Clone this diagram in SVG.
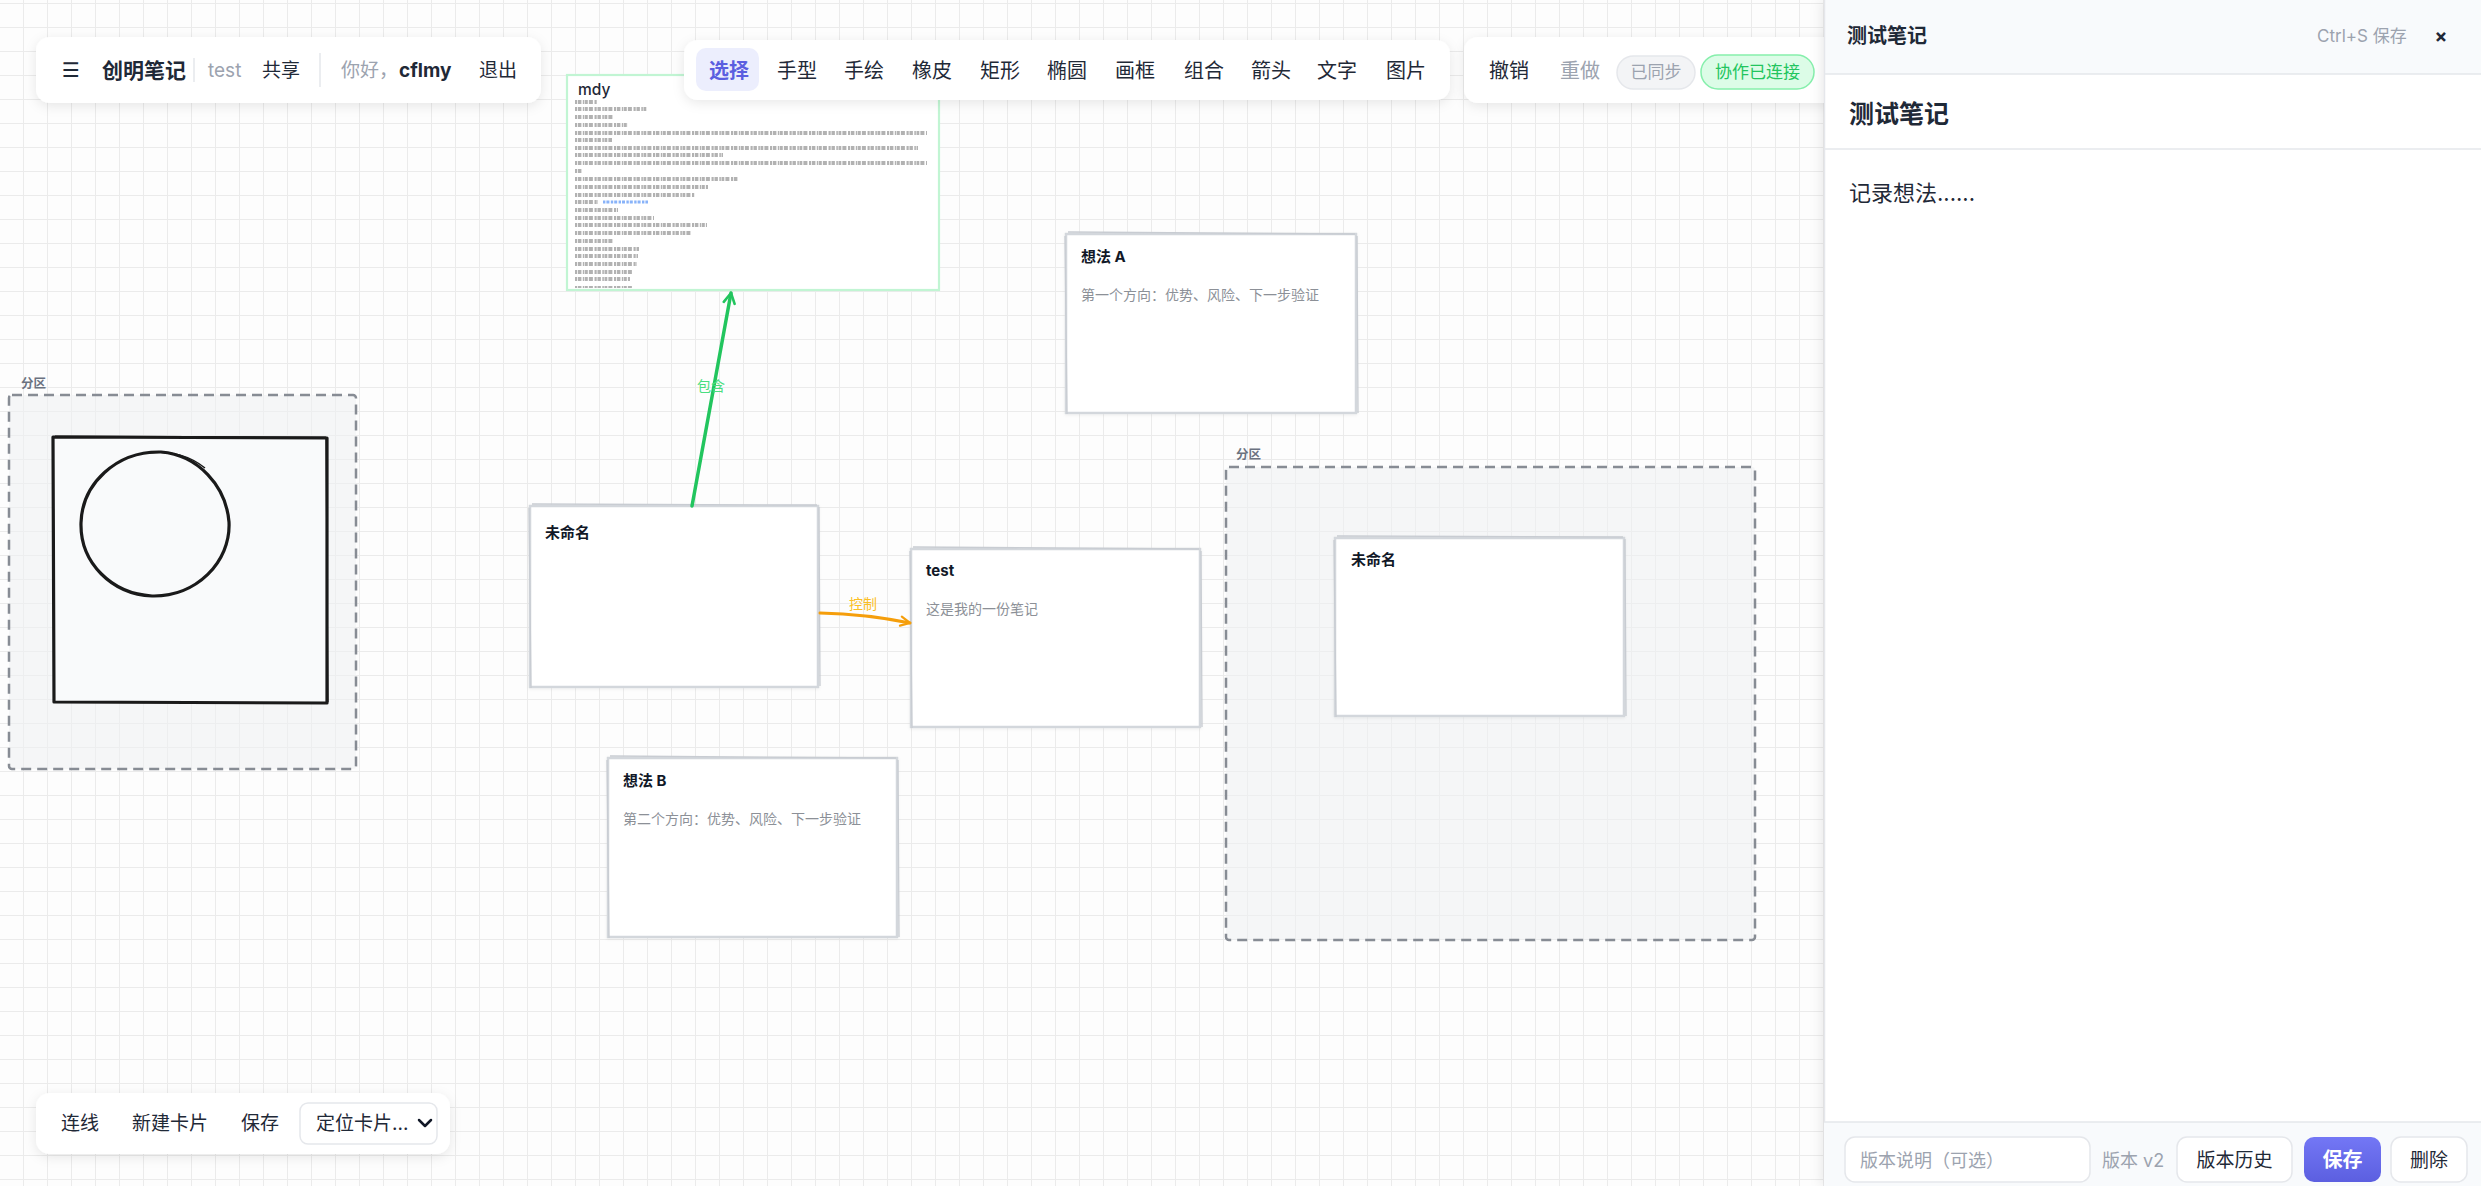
<svg xmlns="http://www.w3.org/2000/svg" width="2481" height="1186" viewBox="0 0 2481 1186">
<defs>
<pattern id="grid" x="-1" y="3" width="24" height="24" patternUnits="userSpaceOnUse">
<path d="M0 0.5 H24 M0.5 0 V24" fill="none" stroke="#ebebeb" stroke-width="1"/>
</pattern>
<filter id="sh" x="-10%" y="-30%" width="120%" height="170%">
<feDropShadow dx="0" dy="3" stdDeviation="6" flood-color="#000" flood-opacity="0.09"/>
</filter>
<filter id="csh" x="-5%" y="-5%" width="110%" height="110%">
<feDropShadow dx="0" dy="1" stdDeviation="1.5" flood-color="#000" flood-opacity="0.06"/>
</filter>
<filter id="psh" x="-5%" y="0%" width="110%" height="100%">
<feDropShadow dx="-3" dy="0" stdDeviation="6" flood-color="#000" flood-opacity="0.08"/>
</filter>
<linearGradient id="pbtn" x1="0" y1="0" x2="0" y2="1">
<stop offset="0" stop-color="#7377f5"/>
<stop offset="1" stop-color="#5c5fe0"/>
</linearGradient>
<marker id="arrG" viewBox="0 0 14 14" refX="12" refY="7" markerWidth="14" markerHeight="14" markerUnits="userSpaceOnUse" orient="auto">
<path d="M2 1.5 L12 7 L2 12.5" fill="none" stroke="#22c55e" stroke-width="2.6" stroke-linecap="round" stroke-linejoin="round"/>
</marker>
<marker id="arrO" viewBox="0 0 14 14" refX="12" refY="7" markerWidth="13" markerHeight="13" markerUnits="userSpaceOnUse" orient="auto">
<path d="M2 2 L12 7 L2 12" fill="none" stroke="#f59e0b" stroke-width="2.4" stroke-linecap="round" stroke-linejoin="round"/>
</marker>
</defs>
<style>
text{font-family:Inter,"Noto Sans CJK SC","Noto Sans",sans-serif;}
.ui{font-size:19px;fill:#1f2937;dominant-baseline:central;}
.tb{font-size:20px;fill:#1f2937;dominant-baseline:central;text-anchor:middle;}
.gray{fill:#9ca3af;}
.bar{fill:#ffffff;filter:url(#sh);}
.card{fill:#ffffff;stroke:#d3d7dc;stroke-width:2.5;filter:url(#csh);}
.sk{fill:none;stroke:#c8ccd2;stroke-width:1.3;}
.ct{font-size:15px;font-weight:700;fill:#111827;}
.cb{font-size:14px;fill:#8c9097;}
.frame{fill:#eef0f3;fill-opacity:0.55;stroke:#878c94;stroke-width:2.5;stroke-dasharray:10 6;}
.fl{font-size:12.5px;font-weight:700;fill:#6b7280;}
.tl{stroke:#4a4a4a;stroke-width:4.2;stroke-dasharray:2.2 0.8 3.4 1.4 1.6 0.6 2.8 1.1 4 1.6;opacity:0.42;}
.sep{stroke:#e5e7eb;stroke-width:1.5;}
.btn{fill:#ffffff;stroke:#e5e7eb;stroke-width:1.5;}
</style>

<rect width="2481" height="1186" fill="#fdfdfd"/>
<rect width="2481" height="1186" fill="url(#grid)"/>

<g id="frame-left">
<rect class="frame" x="9" y="395" width="347" height="374" rx="3"/>
<text class="fl" x="21" y="388">分区</text>
<path d="M53 437 L327 438 L327 703 L54 702 Z" fill="#f9fafb" stroke="#1a1a1a" stroke-width="3.2" stroke-linejoin="round"/>
<path d="M55 436 L326 437 M326 439 L328 702" fill="none" stroke="#1a1a1a" stroke-width="1.2"/>
<path d="M161 452 C198 455 226 486 229 522 C231 562 196 597 152 596 C112 594 80 563 81 523 C82 484 116 451 161 452 Z" fill="none" stroke="#1a1a1a" stroke-width="3.2"/>
<path d="M150 453 C170 450 190 456 205 468" fill="none" stroke="#1a1a1a" stroke-width="1.5"/>
</g>

<g id="frame-right">
<rect class="frame" x="1226" y="467" width="529" height="473" rx="3"/>
<text class="fl" x="1236" y="459">分区</text>
</g>

<g id="card-mdy">
<rect x="567" y="75" width="372" height="215" fill="#ffffff" stroke="#c1f5d3" stroke-width="2.2"/>
<text x="578" y="95" style="font-size:15.5px;font-weight:500;fill:#1f2937;">mdy</text>
<line class="tl" x1="575" y1="102" x2="597" y2="102"/>
<line class="tl" x1="575" y1="109" x2="647" y2="109"/>
<line class="tl" x1="575" y1="117" x2="613" y2="117"/>
<line class="tl" x1="575" y1="125" x2="628" y2="125"/>
<line class="tl" x1="575" y1="133" x2="927" y2="133"/>
<line class="tl" x1="575" y1="140" x2="612" y2="140"/>
<line class="tl" x1="575" y1="148" x2="918" y2="148"/>
<line class="tl" x1="575" y1="155" x2="723" y2="155"/>
<line class="tl" x1="575" y1="163" x2="927" y2="163"/>
<line class="tl" x1="575" y1="171" x2="582" y2="171"/>
<line class="tl" x1="575" y1="179" x2="738" y2="179"/>
<line class="tl" x1="575" y1="187" x2="708" y2="187"/>
<line class="tl" x1="575" y1="195" x2="695" y2="195"/>
<line class="tl" x1="575" y1="202" x2="598" y2="202"/>
<line x1="603" y1="202" x2="648" y2="202" stroke="#3b82f6" stroke-width="3" stroke-dasharray="2.4 1 3 1.4" opacity="0.6"/>
<line class="tl" x1="575" y1="210" x2="618" y2="210"/>
<line class="tl" x1="575" y1="218" x2="654" y2="218"/>
<line class="tl" x1="575" y1="225" x2="707" y2="225"/>
<line class="tl" x1="575" y1="233" x2="692" y2="233"/>
<line class="tl" x1="575" y1="241" x2="613" y2="241"/>
<line class="tl" x1="575" y1="249" x2="639" y2="249"/>
<line class="tl" x1="575" y1="256" x2="638" y2="256"/>
<line class="tl" x1="575" y1="264" x2="637" y2="264"/>
<line class="tl" x1="575" y1="272" x2="632" y2="272"/>
<line class="tl" x1="575" y1="279" x2="630" y2="279"/>
<line class="tl" x1="575" y1="287" x2="633" y2="287" style="stroke-width:2"/>
</g>

<g id="card-unnamed-1">
<rect class="card" x="530" y="506" width="288" height="181"/>
<path class="sk" d="M532 504 L817 505 M819 507 L820 686 M529 508 L531 688"/>
<text class="ct" x="545" y="538">未命名</text>
</g>

<g id="card-test">
<rect class="card" x="911" y="549" width="289" height="178"/>
<path class="sk" d="M913 547 L1199 549 M1201 551 L1202 727 M910 551 L912 728"/>
<text class="ct" x="926" y="576">test</text>
<text class="cb" x="926" y="614">这是我的一份笔记</text>
</g>

<g id="card-idea-a">
<rect class="card" x="1066" y="234" width="290" height="179"/>
<path class="sk" d="M1068 232 L1355 234 M1357 236 L1358 413 M1065 236 L1067 414"/>
<text class="ct" x="1081" y="262">想法 A</text>
<text class="cb" x="1081" y="300">第一个方向：优势、风险、下一步验证</text>
</g>

<g id="card-idea-b">
<rect class="card" x="608" y="758" width="289" height="179"/>
<path class="sk" d="M610 756 L896 758 M898 760 L899 937 M607 760 L609 938"/>
<text class="ct" x="623" y="786">想法 B</text>
<text class="cb" x="623" y="824">第二个方向：优势、风险、下一步验证</text>
</g>

<g id="card-unnamed-2">
<rect class="card" x="1335" y="538" width="289" height="178"/>
<path class="sk" d="M1337 536 L1623 537 M1625 539 L1626 716 M1334 540 L1336 717"/>
<text class="ct" x="1351" y="565">未命名</text>
</g>

<g id="connectors">
<path d="M692 506 L731 293" fill="none" stroke="#22c55e" stroke-width="3.5" stroke-linecap="round" marker-end="url(#arrG)"/>
<text x="711" y="385" style="font-size:14px;fill:#4ade80;dominant-baseline:central;text-anchor:middle;">包含</text>
<path d="M820 613 Q866 614 910 623" fill="none" stroke="#f59e0b" stroke-width="3" stroke-linecap="round" marker-end="url(#arrO)"/>
<text x="863" y="603" style="font-size:14px;fill:#fbbf24;dominant-baseline:central;text-anchor:middle;">控制</text>
</g>

<g id="toolbar-left">
<rect class="bar" x="36" y="37" width="505" height="66" rx="14"/>
<text x="62" y="70" style="font-family:'DejaVu Sans',sans-serif;font-size:20px;fill:#1f2937;dominant-baseline:central;">☰</text>
<text class="ui" x="102" y="70" style="font-size:21px;font-weight:700;">创明笔记</text>
<line class="sep" x1="194" y1="58" x2="194" y2="82"/>
<text class="ui gray" x="208" y="70">test</text>
<text class="ui" x="262" y="70">共享</text>
<line class="sep" x1="320" y1="53" x2="320" y2="87"/>
<text class="ui gray" x="341" y="70">你好，</text>
<text class="ui" x="399" y="70" style="font-weight:700;">cflmy</text>
<text class="ui" x="479" y="70">退出</text>
</g>

<g id="toolbar-tools">
<rect class="bar" x="684" y="40" width="766" height="60" rx="14"/>
<rect x="696" y="48" width="63" height="43" rx="10" fill="#eceefd"/>
<text class="tb" x="729" y="71" style="fill:#5b5fe0;font-weight:700;">选择</text>
<text class="tb" x="797" y="71">手型</text>
<text class="tb" x="864" y="71">手绘</text>
<text class="tb" x="932" y="71">橡皮</text>
<text class="tb" x="1000" y="71">矩形</text>
<text class="tb" x="1067" y="71">椭圆</text>
<text class="tb" x="1135" y="71">画框</text>
<text class="tb" x="1204" y="71">组合</text>
<text class="tb" x="1271" y="71">箭头</text>
<text class="tb" x="1337" y="71">文字</text>
<text class="tb" x="1406" y="71">图片</text>
</g>

<g id="toolbar-history">
<rect class="bar" x="1464" y="37" width="440" height="66" rx="14"/>
<text class="tb" x="1509" y="71">撤销</text>
<text class="tb gray" x="1580" y="71">重做</text>
<rect x="1617" y="56" width="78" height="33" rx="16.5" fill="#f3f4f6" stroke="#e5e7eb" stroke-width="1.5"/>
<text class="tb gray" x="1656" y="72" style="font-size:17px;">已同步</text>
<rect x="1701" y="55" width="113" height="34" rx="17" fill="#dcfce7" stroke="#86efac" stroke-width="1.5"/>
<text class="tb" x="1757.5" y="72" style="font-size:17px;fill:#22c55e;">协作已连接</text>
</g>

<g id="toolbar-bottom">
<rect class="bar" x="36" y="1093" width="414" height="61" rx="14"/>
<text class="ui" x="61" y="1123">连线</text>
<text class="ui" x="132" y="1123">新建卡片</text>
<text class="ui" x="241" y="1123">保存</text>
<rect class="btn" x="300" y="1103" width="137" height="41" rx="8"/>
<text class="ui" x="316" y="1123">定位卡片...</text>
<path d="M419 1120 L425 1126 L431 1120" fill="none" stroke="#111827" stroke-width="2.5" stroke-linecap="round" stroke-linejoin="round"/>
</g>

<g id="panel">
<rect x="1824" y="0" width="657" height="1186" fill="#ffffff" filter="url(#psh)"/>
<rect x="1824" y="0" width="657" height="74" fill="#f8fafc"/>
<line x1="1824.5" y1="0" x2="1824.5" y2="1186" stroke="#e5e7eb" stroke-width="1.5"/>
<line x1="1824" y1="74" x2="2481" y2="74" stroke="#e5e7eb" stroke-width="1.5"/>
<text class="ui" x="1847" y="36" style="font-size:20px;font-weight:700;">测试笔记</text>
<text class="ui gray" x="2317" y="36" style="font-size:17px;">Ctrl+S 保存</text>
<text class="tb" x="2441" y="36" style="font-size:19px;font-weight:700;">×</text>
<text class="ui" x="1849" y="114" style="font-size:25px;font-weight:700;">测试笔记</text>
<line x1="1824" y1="149" x2="2481" y2="149" stroke="#e5e7eb" stroke-width="1.5"/>
<text class="ui" x="1849" y="193" style="font-size:22px;">记录想法......</text>
<rect x="1824" y="1122" width="657" height="64" fill="#f8fafc"/>
<line x1="1824" y1="1122" x2="2481" y2="1122" stroke="#e5e7eb" stroke-width="1.5"/>
<rect class="btn" x="1845" y="1137" width="245" height="45" rx="10"/>
<text class="ui gray" x="1860" y="1160" style="font-size:18px;">版本说明（可选）</text>
<text class="ui gray" x="2102" y="1160" style="font-size:18px;">版本 v2</text>
<rect class="btn" x="2177" y="1137" width="115" height="45" rx="10"/>
<text class="tb" x="2234.5" y="1160" style="font-size:19px;">版本历史</text>
<rect x="2304" y="1137" width="77" height="45" rx="10" fill="url(#pbtn)"/>
<text class="tb" x="2342.5" y="1160" style="fill:#ffffff;font-weight:700;">保存</text>
<rect class="btn" x="2391" y="1137" width="76" height="45" rx="10"/>
<text class="tb" x="2429" y="1160" style="font-size:19px;">删除</text>
</g>
</svg>
